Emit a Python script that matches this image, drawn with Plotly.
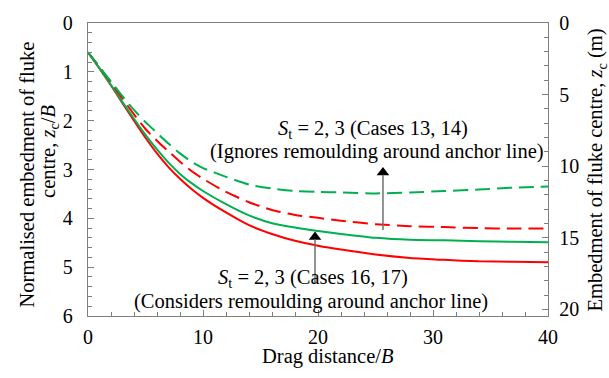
import plotly.graph_objects as go

# Drag distance / B
x_vals = [0, 1, 2, 3, 4, 5, 6, 7, 8, 9, 10, 12, 14, 16, 18, 20, 22, 25, 28, 31, 34, 37, 40]

# Cases 16, 17 (considers remoulding around anchor line) - solid
red_solid = [0.60, 0.93, 1.28, 1.64, 2.00, 2.35, 2.67, 2.95, 3.19, 3.40, 3.58, 3.88, 4.14,
             4.32, 4.46, 4.56, 4.64, 4.74, 4.81, 4.85, 4.88, 4.89, 4.90]
green_solid = [0.60, 0.93, 1.27, 1.62, 1.96, 2.29, 2.59, 2.86, 3.09, 3.28, 3.44, 3.71, 3.94,
               4.10, 4.19, 4.26, 4.32, 4.40, 4.44, 4.45, 4.47, 4.48, 4.49]

# Cases 13, 14 (ignores remoulding around anchor line) - dashed
red_dashed = [0.60, 0.90, 1.22, 1.55, 1.87, 2.17, 2.41, 2.63, 2.84, 3.03, 3.19, 3.46, 3.67,
              3.83, 3.93, 3.99, 4.05, 4.12, 4.16, 4.18, 4.20, 4.21, 4.21]
green_dashed = [0.60, 0.90, 1.20, 1.50, 1.78, 2.03, 2.25, 2.47, 2.67, 2.84, 2.97, 3.15, 3.31,
                3.39, 3.44, 3.46, 3.47, 3.49, 3.47, 3.44, 3.41, 3.37, 3.35]

x_ticks = [0, 10, 20, 30, 40]
y_ticks = [0, 1, 2, 3, 4, 5, 6]
y2_ticks = [0, 5, 10, 15, 20]
B = 3.41  # fluke width (m) linking the two axes

RED = "#ff0000"
GREEN = "#00b050"
AXC = "#7f7f7f"
FONT = "'Liberation Serif', 'Times New Roman', Times, serif"

fig = go.Figure()
fig.add_trace(go.Scatter(x=x_vals, y=red_solid, mode="lines",
                         line=dict(color=RED, width=2, shape="spline", smoothing=0.6)))
fig.add_trace(go.Scatter(x=x_vals, y=green_solid, mode="lines",
                         line=dict(color=GREEN, width=2, shape="spline", smoothing=0.6)))
fig.add_trace(go.Scatter(x=x_vals, y=red_dashed, mode="lines",
                         line=dict(color=RED, width=2, dash="15px,7px", shape="spline", smoothing=0.6)))
fig.add_trace(go.Scatter(x=x_vals, y=green_dashed, mode="lines",
                         line=dict(color=GREEN, width=2, dash="15px,7px", shape="spline", smoothing=0.6)))
# invisible trace to activate the right axis
fig.add_trace(go.Scatter(x=[0], y=[0], yaxis="y2", mode="lines", line=dict(width=0),
                         hoverinfo="skip"))

# arrows: shafts (grey) + heads (black)
arrows = [  # x, z_bottom, z_head
    (25.65, 4.24, 3.06),
    (19.74, 5.34, 4.38),
]
for ax_, zb, zh in arrows:
    fig.add_shape(type="line", xref="x", yref="y", x0=ax_, x1=ax_, y0=zb, y1=zh + 0.05,
                  line=dict(color="#6f6f6f", width=1.5))
fig.add_trace(go.Scatter(x=[a[0] for a in arrows], y=[a[2] for a in arrows], mode="markers",
                         marker=dict(symbol="triangle-up", size=11, color="black"),
                         hoverinfo="skip"))

tick_font = dict(family=FONT, size=20, color="black")
fig.update_layout(
    width=609, height=378,
    margin=dict(l=88, r=61, t=16, b=62),
    paper_bgcolor="white", plot_bgcolor="white",
    showlegend=False,
    font=dict(family=FONT, size=20, color="black"),
    xaxis=dict(range=[0, 40], tickvals=x_ticks, ticks="inside", ticklen=6, tickcolor=AXC,
               tickwidth=1.3, showline=True, linecolor=AXC, linewidth=1.3, mirror=True,
               showgrid=False, zeroline=False, tickfont=tick_font, ticklabelstandoff=3,
               minor=dict(dtick=2, ticks="inside", ticklen=4, tickcolor=AXC, tickwidth=1.3)),
    yaxis=dict(range=[6, 0], tickvals=y_ticks, ticks="inside", ticklen=6, tickcolor=AXC,
               tickwidth=1.3, showline=True, linecolor=AXC, linewidth=1.3,
               showgrid=False, zeroline=False, tickfont=tick_font, ticklabelstandoff=10,
               minor=dict(dtick=0.2, ticks="inside", ticklen=4, tickcolor=AXC, tickwidth=1.3)),
    yaxis2=dict(range=[6 * B, 0], tickvals=y2_ticks, overlaying="y", side="right",
                ticks="inside", ticklen=6, tickcolor=AXC, tickwidth=1.3, showline=True,
                linecolor=AXC, linewidth=1.3, showgrid=False, zeroline=False,
                tickfont=tick_font, ticklabelstandoff=6,
                minor=dict(dtick=1, ticks="inside", ticklen=4, tickcolor=AXC, tickwidth=1.3)),
)

ann_font = dict(family=FONT, size=20.5, color="black")
base = dict(showarrow=False, font=ann_font, xanchor="center", yanchor="middle")
annotations = [
    dict(x=-0.1326, y=0.483, xref="paper", yref="paper", text="Normalised embedment of fluke",
         textangle=-90, **base),
    dict(x=-0.0826, y=0.56, xref="paper", yref="paper",
         text="centre, <i>z</i><sub>c</sub>/<i>B</i>", textangle=-90, **base),
    dict(x=1.1065, y=0.5, xref="paper", yref="paper",
         text="Embedment of fluke centre, <i>z</i><sub>c</sub> (m)", textangle=-90, **base),
    dict(x=0.5207, y=-0.1367, xref="paper", yref="paper", text="Drag distance/<i>B</i>", **base),
    dict(x=24.78, y=2.18, xref="x", yref="y", text="<i>S</i><sub>t</sub> = 2, 3 (Cases 13, 14)",
         **base),
    dict(x=25.13, y=2.64, xref="x", yref="y", text="(Ignores remoulding around anchor line)",
         **base),
    dict(x=19.57, y=5.24, xref="x", yref="y", text="<i>S</i><sub>t</sub> = 2, 3 (Cases 16, 17)",
         **base),
    dict(x=19.39, y=5.70, xref="x", yref="y", text="(Considers remoulding around anchor line)",
         **base),
]
fig.update_layout(annotations=annotations)

fig.write_html("out.html")
